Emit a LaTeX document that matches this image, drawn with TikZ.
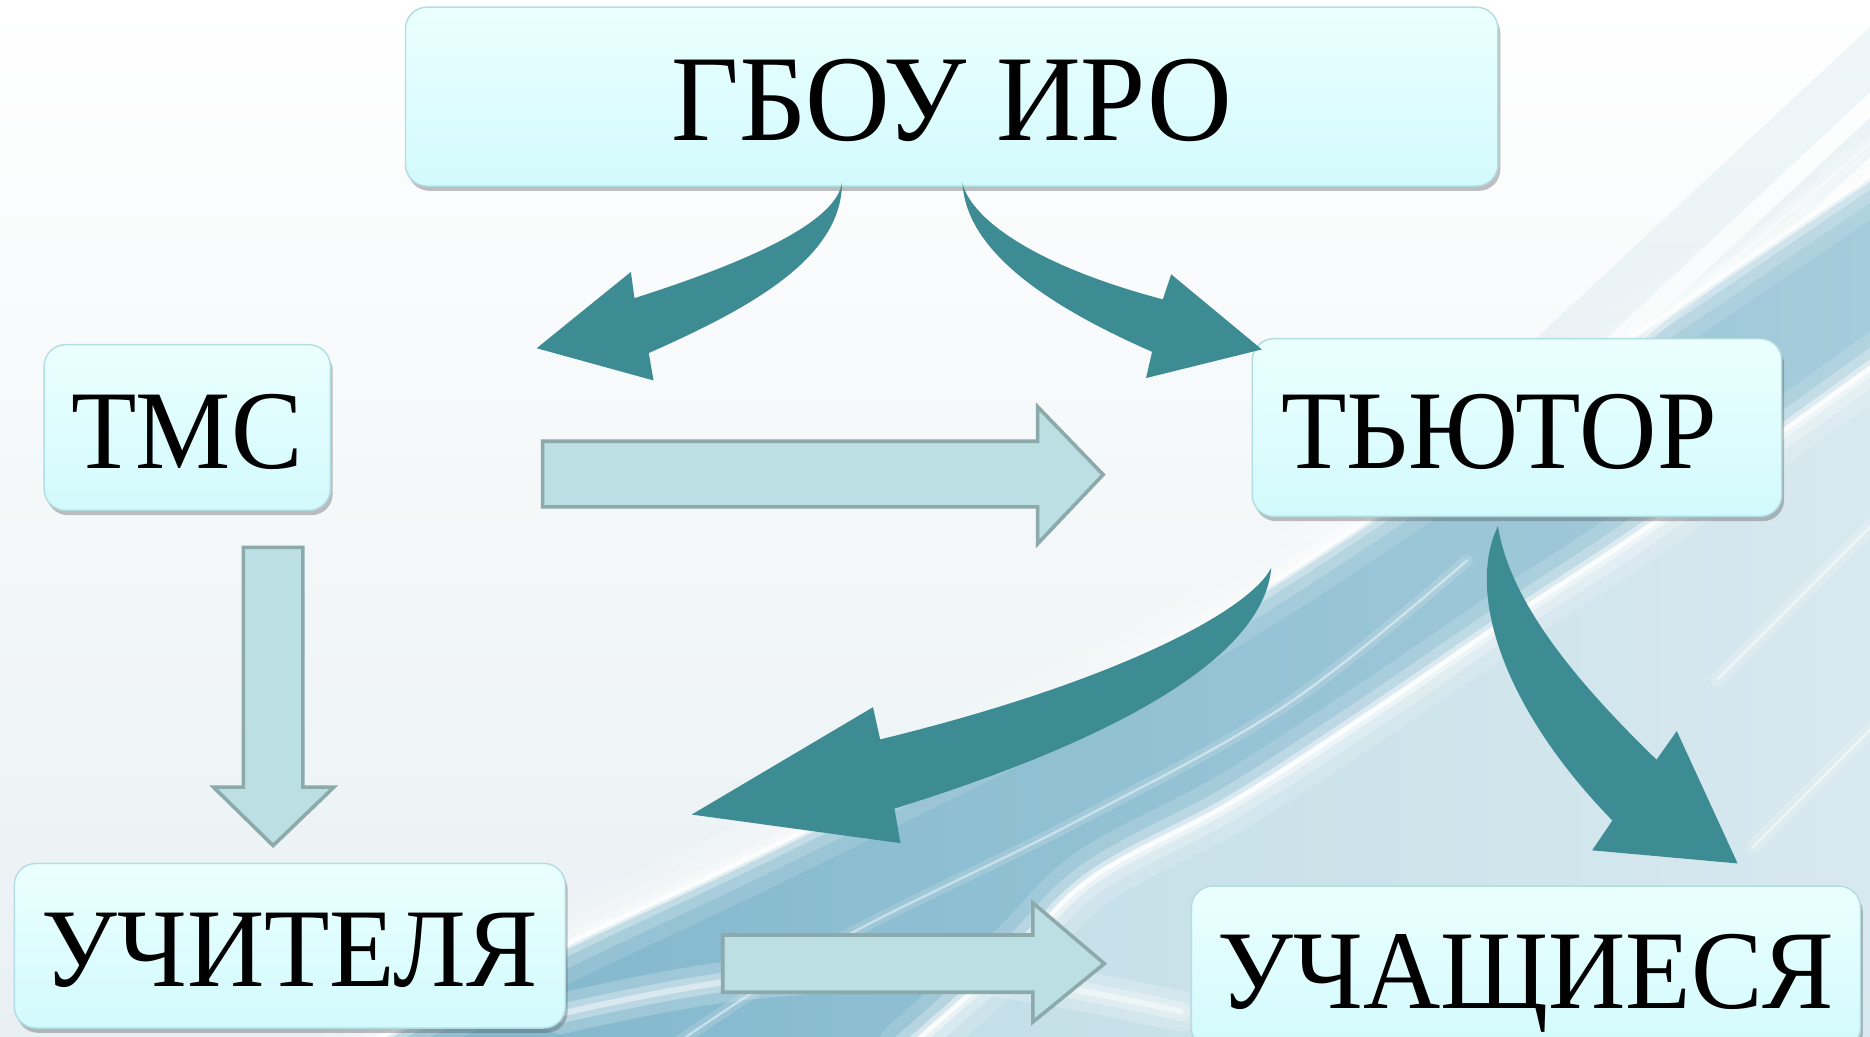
\documentclass[tikz,border=0pt]{standalone}
\usepackage{fontspec}
\newfontfamily\bx[FakeStretch=0.955]{Liberation Serif}
\usetikzlibrary{shadows}
\definecolor{boxtop}{HTML}{EBFFFF}
\definecolor{boxbot}{HTML}{D2FAFC}
\definecolor{boxedge}{HTML}{B2DDE2}
\definecolor{teal}{HTML}{3E8C93}
\definecolor{blkfill}{HTML}{BBDFE2}
\definecolor{blkedge}{HTML}{8CA9AC}
\definecolor{bgblue}{HTML}{80B6CC}
\definecolor{bgmid}{HTML}{A5CCDB}
\definecolor{bgpale}{HTML}{C3DEE7}
\definecolor{bgpale2}{HTML}{D8E9EF}
\definecolor{bglight}{HTML}{E9F0F3}
\begin{document}
\begin{tikzpicture}[x=1pt,y=-1pt,
  box/.style={draw=boxedge, line width=1.2pt, rounded corners=18pt,
    top color=boxtop, bottom color=boxbot,
    drop shadow={shadow xshift=2pt, shadow yshift=-4pt, opacity=0.35, fill=black!70},
    inner sep=0pt, text depth=0pt, text height=68pt,
    font=\bx\fontsize{94}{94}\selectfont},
  blk/.style={fill=blkfill, draw=blkedge, line width=3pt, line join=miter},
  crv/.style={fill=teal},
  glow/.style={white, line cap=round}]
\useasboundingbox (0,0) rectangle (1568,869.5);
% background
\shade[shading angle=135, top color=white, bottom color=bglight] (0,0) rectangle (1568,869.5);
% faint streaks top right
\foreach \a/\w/\o in {0/40/0.25, 70/24/0.3, 130/14/0.35}
  \draw[bgpale, line width=\w pt, opacity=\o, line cap=round] (1300+\a,300) -- (1600+\a,20);
% blue region right of the main swoosh
\shade[left color=bgblue, right color=bgmid]
  plot[smooth, tension=0.6] coordinates {(300,880) (480,790) (628,720) (859,606) (1003,528) (1148,436) (1300,330) (1440,235) (1580,140)}
  -- (1580,880) -- cycle;
% pale region right of the white band
\shade[left color=bgpale, right color=bgpale2]
  plot[smooth, tension=0.6] coordinates {(760,880) (850,800) (917,735) (1032,673) (1148,598) (1263,520) (1390,436) (1580,300)}
  -- (1580,880) -- cycle;
% soft edge of the main swoosh
\foreach \w/\o in {60/0.12, 36/0.18, 18/0.3, 7/0.55, 2.5/0.9}
  \draw[glow, line width=\w pt, opacity=\o]
  plot[smooth, tension=0.6] coordinates {(300,880) (480,790) (628,720) (859,606) (1003,528) (1148,436) (1300,330) (1440,235) (1580,140)};
% white band
\foreach \w/\o in {50/0.15, 28/0.25, 12/0.45, 4/0.85}
  \draw[glow, line width=\w pt, opacity=\o]
  plot[smooth, tension=0.6] coordinates {(760,880) (850,800) (917,735) (1032,673) (1148,598) (1263,520) (1390,436) (1580,300)};
% soft streaks
\foreach \w/\o in {10/0.15, 2/0.45}
  \draw[glow, line width=\w pt, opacity=\o]
  plot[smooth, tension=0.6] coordinates {(560,880) (700,790) (900,690) (1080,590) (1230,470)};
\foreach \w/\o in {34/0.2, 16/0.3, 5/0.45}
  \draw[glow, line width=\w pt, opacity=\o]
  plot[smooth, tension=0.6] coordinates {(470,850) (620,822) (800,815) (990,848)};
\foreach \w/\o in {12/0.2, 2/0.5} {
  \draw[glow, line width=\w pt, opacity=\o] (1440,570) -- (1580,430);
  \draw[glow, line width=\w pt, opacity=\o] (1470,710) -- (1580,600);
  \draw[glow, line width=\w pt, opacity=\o] (1370,290) -- (1580,110);
}
% boxes
\node[box, minimum width=916pt, minimum height=150pt, text height=74pt,
  font=\bx\fontsize{103}{103}\selectfont] (gbou) at (798,81) {ГБОУ ИРО};
\node[box, minimum width=240pt, minimum height=139pt] (tms) at (157,358.5) {ТМС};
\node[box, minimum height=149pt, text width=395pt, align=left, inner xsep=24.5pt]
  (tutor) at (1272,358.5) {ТЬЮТОР};
\node[box, minimum width=462pt, minimum height=138pt] (uchit) at (243,793) {УЧИТЕЛЯ};
\node[box, minimum width=561pt, minimum height=137pt] (uchas) at (1279.5,811.5) {УЧАЩИЕСЯ};
% block arrows
\draw[blk] (455,370) -- (870,370) -- (870,341) -- (925,398) -- (870,456) -- (870,425) -- (455,425) -- cycle;
\draw[blk] (204,459) -- (254,459) -- (254,660) -- (280,660) -- (229,709) -- (179,660) -- (204,660) -- cycle;
\draw[blk] (606,784) -- (866,784) -- (866,757) -- (926,808) -- (866,857) -- (866,832) -- (606,832) -- cycle;
% curved arrows
\fill[crv] (706,153) .. controls (702,182) and (645,214) .. (532,250)
  -- (529,228) -- (450,292) -- (548,319) -- (544,296)
  .. controls (630,258) and (706,216) .. (706,153) -- cycle;
\fill[crv] (807,153) .. controls (813,182) and (865,222) .. (975,251)
  -- (982,230) -- (1058,293) -- (961,317) -- (966,295)
  .. controls (882,258) and (810,212) .. (807,153) -- cycle;
\fill[crv] (1066,476) .. controls (1048,512) and (935,572) .. (738,620)
  -- (732,593) -- (580,683) -- (755,707) -- (750,678)
  .. controls (885,636) and (1058,566) .. (1066,476) -- cycle;
\fill[crv] (1256,441) .. controls (1228,500) and (1264,598) .. (1352,688)
  -- (1335,713) -- (1457,724) -- (1406,613) -- (1389,637)
  .. controls (1322,572) and (1266,505) .. (1256,441) -- cycle;
\end{tikzpicture}
\end{document}
